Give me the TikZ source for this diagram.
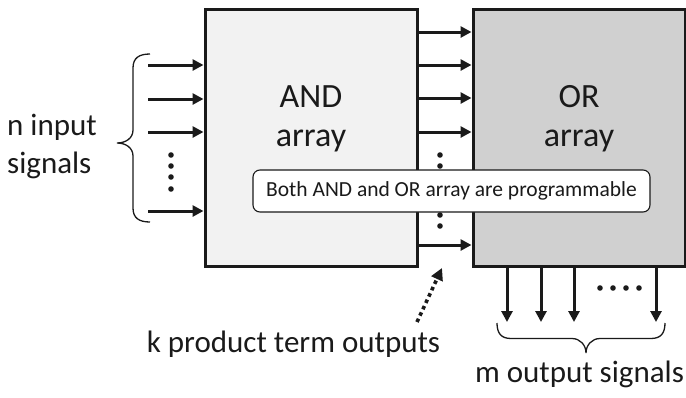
\documentclass[tikz,border=0pt]{standalone}
\usepackage{fontspec}
\setmainfont{Carlito}
\usetikzlibrary{arrows.meta}
\definecolor{andfill}{HTML}{F2F2F2}
\definecolor{orfill}{HTML}{D0D0D0}
\definecolor{ink}{HTML}{1A1A1A}
\begin{document}
\begin{tikzpicture}[x=1pt,y=-1pt,
  blockbox/.style={draw=ink,line width=3pt,minimum width=212pt,minimum height=257pt,inner sep=0pt},
  bigtext/.style={text=ink,font=\fontsize{31}{38}\selectfont,inner sep=0pt},
  blocktext/.style={text=ink,font=\fontsize{34}{39}\selectfont,inner sep=0pt,align=center},
  sig/.style={draw=ink,line width=3pt,-{Triangle[length=11pt,width=11pt]}},
  dotmark/.style={fill=ink,draw=none},
  bracepath/.style={draw=ink,line width=1.3pt},
  notebox/.style={draw=ink,line width=1.1pt,fill=white,rounded corners=7pt,minimum width=397pt,minimum height=42pt,inner sep=0pt,text=ink,font=\fontsize{21.5}{26}\selectfont}]
\useasboundingbox (0,0) rectangle (686,397);
% blocks
\node[blockbox,fill=andfill] (and) at (311,137.5) {};
\node[blockbox,fill=orfill] (or) at (579,137.5) {};
\node[blocktext,anchor=base] (andtxt) at (311,146) {AND\\array};
\node[blocktext,anchor=base] (ortxt) at (579,146) {OR\\array};
% input arrows
\foreach \i/\y in {1/65,2/99,3/132,4/211}{
  \coordinate (in\i) at (148,\y);
  \draw[sig] (in\i) -- (in\i -| and.west);
}
\foreach \y in {155,166,177,189}{\fill[dotmark] (171,\y) circle (2.8pt);}
% product term arrows
\foreach \i/\y in {1/32,2/65,3/98,4/132,5/245}{
  \coordinate (pt\i) at (417,\y);
  \draw[sig] (pt\i) -- (pt\i -| or.west);
}
\foreach \y in {155,166,215,226}{\fill[dotmark] (440,\y) circle (2.8pt);}
% output arrows
\foreach \i/\x in {1/507,2/541,3/574,4/656}{
  \coordinate (out\i) at (\x,322);
  \draw[sig] (out\i |- or.south) -- (out\i);
}
\foreach \x in {600,613,626,639}{\fill[dotmark] (\x,288) circle (2.8pt);}
% note
\node[notebox] (note) at (451.5,191) {Both AND and OR array are programmable};
% left brace
\draw[bracepath] (150,54) .. controls (139,54) and (133,58) .. (133,68) -- (133,130)
  .. controls (133,138) and (126,143) .. (117,143)
  .. controls (126,143) and (133,148) .. (133,156) -- (133,208)
  .. controls (133,218) and (139,222) .. (150,222);
% bottom brace
\draw[bracepath] (497,323) .. controls (497,333) and (501,338.5) .. (511,338.5) -- (572,338.5)
  .. controls (580,338.5) and (586,345) .. (586,353)
  .. controls (586,345) and (592,338.5) .. (600,338.5) -- (651,338.5)
  .. controls (661,338.5) and (665,333) .. (665,323);
% labels
\node[bigtext,align=left,anchor=base west] (ntxt) at (7,173) {n input\\signals};
\node[bigtext,anchor=base] (ktxt) at (293.5,352) {k product term outputs};
\node[bigtext,anchor=base] (mtxt) at (579.5,382) {m output signals};
% dotted arrow
\coordinate (kstart) at (417,322);
\coordinate (ktip) at (442,268);
\draw[draw=ink,line width=3.6pt,dash pattern=on 3.6pt off 3.4pt,-{Triangle[length=12pt,width=12pt]}] (kstart) -- (ktip);
\end{tikzpicture}
\end{document}
